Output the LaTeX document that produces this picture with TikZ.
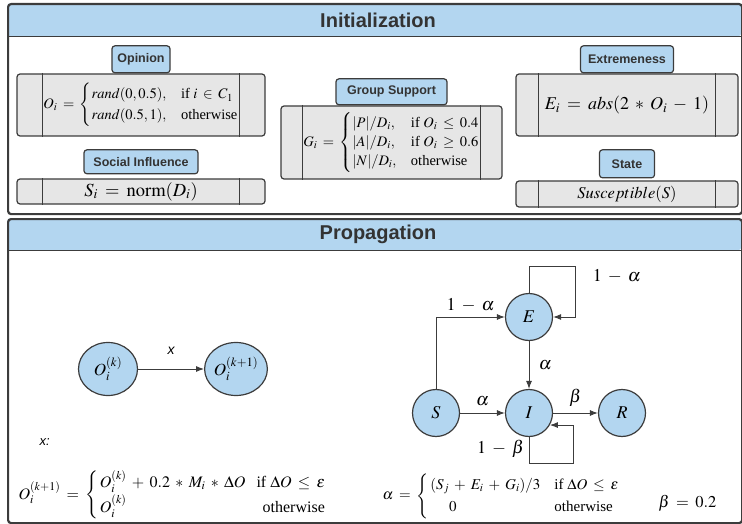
\documentclass[tikz,border=0pt]{standalone}
\usepackage{amsmath}
\usepackage{mathptmx}
\usepackage[no-math]{fontspec}
\setmainfont{Liberation Serif}
\setsansfont{Liberation Sans}
\usetikzlibrary{positioning,shapes.geometric,arrows.meta}
\medmuskip=6mu plus 2mu minus 2mu
\thickmuskip=7mu plus 3mu minus 1mu

\definecolor{headblue}{RGB}{179,214,240}
\definecolor{boxgray}{RGB}{230,230,230}
\definecolor{linegray}{RGB}{60,60,60}
\definecolor{titlegray}{RGB}{51,51,51}

\tikzset{panel/.style = {draw=linegray, line width=2.2pt, rounded corners=3pt, inner sep=0pt, anchor=north west},
         header/.style = {fill=headblue, rounded corners=3pt, inner sep=0pt, anchor=north west},
         title/.style = {font=\sffamily\bfseries\fontsize{20}{24}\selectfont, text=titlegray},
         tag/.style = {draw=linegray, line width=1.2pt, fill=headblue, rounded corners=3pt, inner sep=0pt,
                       font=\sffamily\bfseries\fontsize{12.5}{15}\selectfont, text=titlegray},
         formbox/.style = {draw=linegray, line width=1.2pt, fill=boxgray, rounded corners=3pt, inner sep=0pt},
         compart/.style = {circle, draw=linegray, line width=1.2pt, fill=headblue, minimum size=47pt, inner sep=0pt,
                           font=\fontsize{18}{20}\selectfont},
         opnode/.style = {ellipse, draw=linegray, line width=1.2pt, fill=headblue, minimum width=59pt,
                          minimum height=53pt, inner sep=0pt, font=\fontsize{17}{20}\selectfont},
         arr/.style = {draw=linegray, line width=0.9pt, -{Latex[length=8pt,width=6pt]}},
         rate/.style = {font=\fontsize{18}{20}\selectfont}
        }

\begin{document}
\begin{tikzpicture}[x=1pt,y=-1pt]
\useasboundingbox (0,0) rectangle (742,524);

% Initialization
\node[header, minimum width=734pt, minimum height=33pt] (inithead) at (7,3) {};
\draw[linegray, line width=1.5pt] (inithead.south west) -- (inithead.south east);
\node[panel, minimum width=734pt, minimum height=210pt] (initpanel) at (7,3) {};
\node[title] (inittitle) at (378,20) {Initialization};

\node[formbox, minimum width=248pt, minimum height=62pt, font=\fontsize{14.5}{17}\selectfont] (opbox) at (141,105)
  {$O_i = \begin{cases} rand(0,0.5), & \text{if } i\in C_1\\ rand(0.5,1), & \text{otherwise}\end{cases}$};
\node[formbox, minimum width=248pt, minimum height=25pt, font=\fontsize{18.5}{21}\selectfont] (sibox) at (141,191.5)
  {$S_i = \mathrm{norm}(D_i)$};
\node[formbox, minimum width=221pt, minimum height=73pt, font=\fontsize{14.5}{16}\selectfont] (gsbox) at (391.5,142.5)
  {$G_i = \begin{cases} |P|/D_i, & \text{if } O_i \le 0.4\\ |A|/D_i, & \text{if } O_i \ge 0.6\\ |N|/D_i, & \text{otherwise}\end{cases}$};
\node[formbox, minimum width=222pt, minimum height=62pt, font=\fontsize{18}{22}\selectfont] (exbox) at (627,105)
  {$E_i = abs(2 * O_i - 1)$};
\node[formbox, minimum width=222pt, minimum height=26pt, font=\fontsize{16.5}{19}\selectfont] (stbox) at (627,194)
  {$Susceptible(S)$};
\foreach \b/\d in {opbox/26, sibox/26, gsbox/22, exbox/23, stbox/23}
  \draw[linegray, line width=1.2pt] ([xshift=\d pt]\b.north west) -- ([xshift=\d pt]\b.south west)
                                    ([xshift=-\d pt]\b.north east) -- ([xshift=-\d pt]\b.south east);

\node[tag, minimum width=58pt, minimum height=27pt, above=0pt of opbox] (optag) {Opinion};
\node[tag, minimum width=114pt, minimum height=24pt, above=4pt of sibox] (sitag) {Social Influence};
\node[tag, minimum width=111pt, minimum height=26pt, above=0pt of gsbox] (gstag) {Group Support};
\node[tag, minimum width=93pt, minimum height=27pt, above=0pt of exbox] (extag) {Extremeness};
\node[tag, minimum width=55pt, minimum height=28pt, above=2pt of stbox] (sttag) {State};

% Propagation
\node[header, minimum width=734pt, minimum height=32pt] (prophead) at (7,218) {};
\draw[linegray, line width=1.5pt] (prophead.south west) -- (prophead.south east);
\node[panel, minimum width=734pt, minimum height=304pt] (proppanel) at (7,218) {};
\node[title] (proptitle) at (378,234) {Propagation};

\node[opnode] (ok) at (108,369) {$O_i^{(k)}$};
\node[opnode] (okk) at (236,369) {$O_i^{(k+1)}$};
\draw[arr] (ok) -- node[above=11pt, font=\sffamily\itshape\fontsize{14}{17}\selectfont] {x} (okk);

\node[compart] (S) at (436,413) {$S$};
\node[compart] (I) at (529,413) {$I$};
\node[compart] (R) at (622,413) {$R$};
\node[compart] (E) at (529,317) {$E$};
\coordinate (eloop) at (575,266);
\coordinate (iloop) at (573,463);

\draw[arr] (S) -- node[rate, above=3pt] {$\alpha$} (I);
\draw[arr] (I) -- node[rate, above=3pt] {$\beta$} (R);
\draw[arr] (E) -- node[rate, right=6pt] {$\alpha$} (I);
\draw[arr] (S) |- node[rate, pos=0.75, above=1pt] {$1-\alpha$} (E);
\draw[arr] (E.north) |- (eloop) |- node[rate, pos=0.1, right=14pt] {$1-\alpha$} (E.east);
\draw[arr] (I.south) |- node[rate, pos=0.22, left=1pt] {$1-\beta$} (iloop) |- (I.-30);

\node[anchor=west, font=\sffamily\itshape\fontsize{13}{16}\selectfont] (xlabel) at (36,442) {x:};
\node[anchor=west, font=\fontsize{16}{19}\selectfont] (oform) at (15,495)
  {$\renewcommand{\arraystretch}{1.3}O_i^{(k+1)} = \left\{\begin{array}{@{\,}l@{\hspace{11pt}}r} O_i^{(k)} + 0.2 * M_i * \Delta O & \text{if } \Delta O \le \epsilon\\ O_i^{(k)} & \text{otherwise}\end{array}\right.$};
\node[anchor=west, font=\fontsize{15}{18}\selectfont] (aform) at (379,496)
  {$\renewcommand{\arraystretch}{1.2}\alpha = \left\{\begin{array}{@{\,}l@{\hspace{14pt}}l} (S_j + E_i + G_i)/3 & \text{if } \Delta O \le \epsilon\\ \quad\ 0 & \text{otherwise}\end{array}\right.$};
\node[anchor=west, font=\fontsize{16.5}{19}\selectfont] (bform) at (655,503) {$\beta = 0.2$};
\end{tikzpicture}
\end{document}
